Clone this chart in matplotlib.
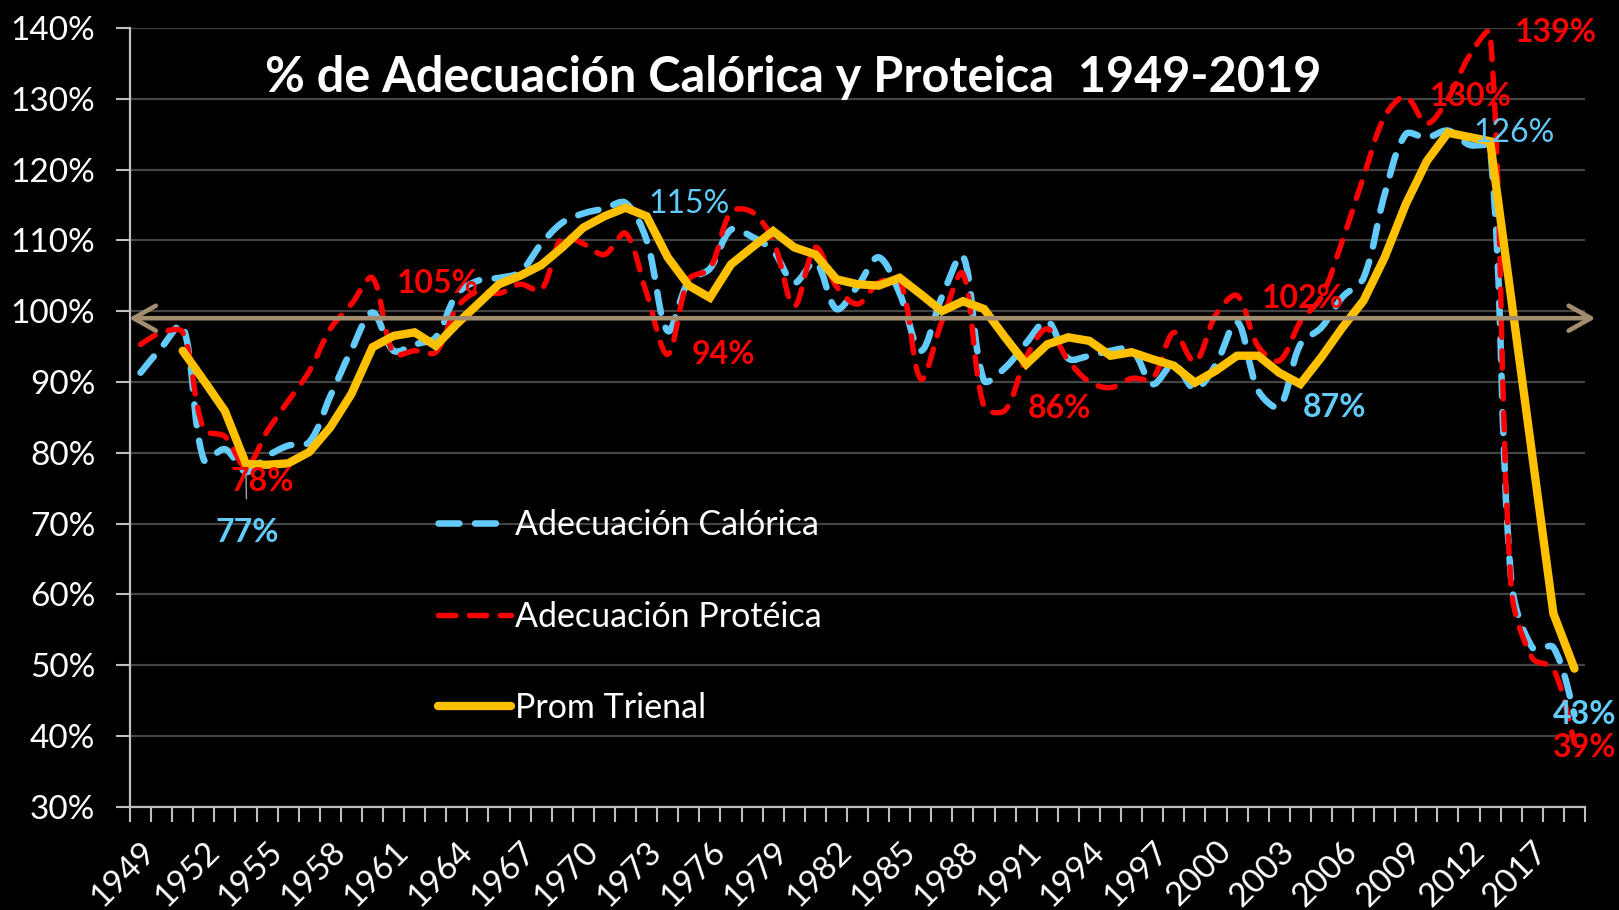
import matplotlib
matplotlib.use("Agg")
import matplotlib.pyplot as plt
import numpy as np
from matplotlib.path import Path
from matplotlib.patches import PathPatch
from matplotlib.lines import Line2D

BLUE, RED, GOLD, TAN = "#62CBFA", "#FF0000", "#FFC000", "#A28E6E"
GRID, AXIS = "#444444", "#BFBFBF"
plt.rcParams.update({"font.family": ["Lato", "DejaVu Sans"], "font.size": 20})

years = list(range(1949, 2015)) + [2017, 2018, 2019]
calorica = [91.3, 94.9, 98.0, 79.0, 80.5, 77.3, 79.5, 81.0, 81.5, 88.0,
            94.5, 99.8, 94.4, 95.3, 96.3, 102.4, 104.3, 104.7, 105.5, 109.5,
            112.5, 113.8, 114.5, 115.3, 110.0, 97.2, 104.3, 106.0, 111.5, 110.5,
            108.5, 104.0, 107.0, 100.3, 103.5, 107.6, 102.5, 94.4, 102.0, 107.8,
            90.2, 92.0, 95.5, 98.6, 93.3, 93.7, 94.4, 94.6, 89.7, 92.5,
            89.0, 92.5, 98.5, 88.8, 86.5, 95.3, 97.7, 102.0, 104.7, 116.5,
            125.0, 124.5, 125.5, 123.5, 123.0, 62.0, 52.5, 52.5, 43.0]
proteica = [95.3, 97.0, 97.0, 83.3, 82.3, 78.0, 83.0, 87.3, 91.5, 97.5,
            101.0, 104.7, 94.0, 94.4, 94.2, 100.5, 102.8, 102.5, 103.8, 103.0,
            110.5, 109.5, 108.0, 111.0, 102.5, 93.9, 104.5, 106.0, 114.0, 114.0,
            110.0, 100.7, 109.0, 103.5, 101.0, 104.0, 104.5, 90.4, 98.5, 105.3,
            86.5, 86.0, 93.5, 97.5, 93.0, 90.0, 89.2, 90.5, 90.5, 97.0,
            92.8, 99.5, 102.2, 95.0, 93.0, 98.5, 102.0, 110.0, 119.0, 127.5,
            130.3, 126.5, 130.0, 136.0, 139.3, 61.0, 51.0, 49.5, 39.0]
# 3-year moving average, starts at 1951
trienal = [94.4, 90.2, 85.9, 78.4, 78.3, 78.5, 80.1, 83.6, 88.3, 94.9,
           96.5, 97.0, 95.1, 98.2, 101.0, 103.8, 105.0, 106.5, 109.0, 111.8,
           113.4, 114.6, 113.4, 107.6, 103.6, 101.9, 106.6, 109.0, 111.3, 109.0,
           108.0, 104.5, 103.8, 103.6, 104.7, 102.4, 100.0, 101.4, 100.3, 96.3,
           92.5, 95.3, 96.3, 95.8, 93.7, 94.2, 93.2, 92.3, 89.9, 91.6,
           93.7, 93.7, 91.3, 89.7, 93.5, 97.7, 101.5, 107.6, 115.1, 121.2,
           125.2, 124.6, 124.0, 101.8, 79.6, 57.3, 49.5]
referencia = 99.0

# (series, year, text, offset px, bold)
etiquetas = [
    ("p", 1960, "105%", (24, -6), True), ("c", 1972, "115%", (23, -1), False),
    ("p", 1974, "94%", (24, 0), True), ("p", 1990, "86%", (23, 2), True),
    ("p", 2001, "102%", (25, -3), True), ("c", 2003, "87%", (24, -1), True),
    ("p", 2009, "130%", (24, 0), True), ("c", 2011, "126%", (25, -2), False),
    ("p", 2013, "139%", (25, 0), True),
]

W, H = 16.19, 9.10
AX_POS = [0.0803, 0.1135, 0.8987, 0.8558]
YLIM = (30, 140)


def smooth(xs, ys, sx, sy):
    # smoothed line like Excel: cubic Bezier through every point,
    # tangents split by the pixel length of the neighbouring segments
    P = np.column_stack([xs, ys]).astype(float)
    n = len(P)
    d = np.hypot(np.diff(P[:, 0]) * sx, np.diff(P[:, 1]) * sy)
    verts, codes = [tuple(P[0])], [Path.MOVETO]
    for k in range(n - 1):
        if k == 0:
            c1 = P[0] + (P[1] - P[0]) / 6
        else:
            c1 = P[k] + (P[k + 1] - P[k - 1]) * d[k] / (d[k - 1] + d[k]) / 3
        if k + 1 == n - 1:
            c2 = P[k + 1] - (P[k + 1] - P[k]) / 6
        else:
            c2 = P[k + 1] - (P[k + 2] - P[k]) * d[k] / (d[k] + d[k + 1]) / 3
        verts += [tuple(c1), tuple(c2), tuple(P[k + 1])]
        codes += [Path.CURVE4] * 3
    return Path(verts, codes)


x = np.arange(len(years))
fig = plt.figure(figsize=(W, H), dpi=100, facecolor="black")
ax = fig.add_axes(AX_POS, facecolor="black")
sx = AX_POS[2] * W * 100 / len(years)
sy = AX_POS[3] * H * 100 / (YLIM[1] - YLIM[0])

dash_c, dash_p = (0, (3.2, 2.4)), (0, (3.2, 2.5))
LW_C, LW_P, LW_T = 4.7, 3.9, 6.0
ax.add_patch(PathPatch(smooth(x, calorica, sx, sy), fill=False, ec=BLUE,
                       lw=LW_C, ls=dash_c, capstyle="round", joinstyle="round",
                       zorder=3))
ax.add_patch(PathPatch(smooth(x, proteica, sx, sy), fill=False, ec=RED,
                       lw=LW_P, ls=dash_p, capstyle="round", joinstyle="round",
                       zorder=4))
ax.plot(x[2:], trienal, color=GOLD, lw=LW_T, solid_capstyle="round",
        solid_joinstyle="miter", zorder=5)

ax.annotate("", xy=(-0.55, referencia), xytext=(69.0, referencia),
            arrowprops=dict(arrowstyle="<->,head_length=0.8,head_width=0.45",
                            mutation_scale=20, color=TAN, lw=3.3,
                            shrinkA=0, shrinkB=0),
            annotation_clip=False, zorder=6)

ax.set_xlim(-0.5, len(years) - 0.5)
ax.set_ylim(*YLIM)
ax.set_yticks(np.arange(30, 141, 10))
ax.set_yticklabels([f"{v}%" for v in range(30, 141, 10)])
ax.set_xticks(x[::3])
ax.set_xticklabels([str(years[i]) for i in x[::3]], rotation=45, ha="right",
                   va="top", rotation_mode="anchor")
ax.set_xticks(np.arange(-0.5, len(years)), minor=True)
ax.tick_params(axis="x", which="major", length=0, pad=21, colors="white",
               labelsize=24)
ax.tick_params(axis="x", which="minor", length=11, width=1.5, color=AXIS)
ax.tick_params(axis="y", length=10, width=1.5, color=AXIS, labelcolor="white",
               labelsize=24, pad=15)
ax.grid(axis="y", color=GRID, lw=1.6)
ax.set_axisbelow(True)
for s in ("top", "right"):
    ax.spines[s].set_visible(False)
for s in ("left", "bottom"):
    ax.spines[s].set_color(AXIS)
    ax.spines[s].set_linewidth(1.6)

lookup = {"c": calorica, "p": proteica}
colors = {"c": BLUE, "p": RED}
for serie, yr, txt, (dx, dy), bold in etiquetas:
    i = years.index(yr)
    ax.annotate(txt, xy=(i, lookup[serie][i]), xytext=(dx * 0.72, dy * 0.72),
                textcoords="offset points", ha="left", va="center",
                color=colors[serie], fontsize=23,
                fontweight="bold" if bold else "normal", zorder=7)

i54 = years.index(1954)
ax.annotate("78%", xy=(i54, proteica[i54]), xytext=(16 * 0.72, -15 * 0.72),
            textcoords="offset points", ha="center", va="center", color=RED,
            fontsize=23, fontweight="bold", zorder=7)
ax.annotate("77%", xy=(i54, calorica[i54]), xytext=(1 * 0.72, -61 * 0.72),
            textcoords="offset points", ha="center", va="center", color=BLUE,
            fontsize=23, fontweight="bold", zorder=7,
            arrowprops=dict(arrowstyle="-", color="#A6A6A6", lw=1,
                            shrinkA=12, shrinkB=2))
last = len(years) - 1
ax.annotate("43%", xy=(last, calorica[last]), xytext=(10 * 0.72, 0),
            textcoords="offset points", ha="center", va="center", color=BLUE,
            fontsize=23, fontweight="bold", zorder=7, annotation_clip=False)
ax.annotate("39%", xy=(last, proteica[last]), xytext=(10 * 0.72, -5 * 0.72),
            textcoords="offset points", ha="center", va="center", color=RED,
            fontsize=23, fontweight="bold", zorder=7, annotation_clip=False)

handles = [
    Line2D([], [], color=BLUE, lw=LW_C, ls=dash_c, dash_capstyle="round"),
    Line2D([], [], color=RED, lw=LW_P, ls=dash_p, dash_capstyle="round"),
    Line2D([], [], color=GOLD, lw=LW_T, solid_capstyle="round"),
]
leg = ax.legend(handles, ["Adecuación Calórica", "Adecuación Protéica",
                          "Prom Trienal"],
                loc="upper left", bbox_to_anchor=(0.2, 0.404), frameon=False,
                fontsize=24.5, handlelength=2.15, handletextpad=0.1,
                labelspacing=1.75, borderpad=0)
for t in leg.get_texts():
    t.set_color("white")

fig.text(0.49, 0.915, "% de Adecuación Calórica y Proteica  1949-2019",
         ha="center", va="center", color="white", fontsize=35,
         fontweight="bold")

fig.savefig("out.png", dpi=100, facecolor="black")
